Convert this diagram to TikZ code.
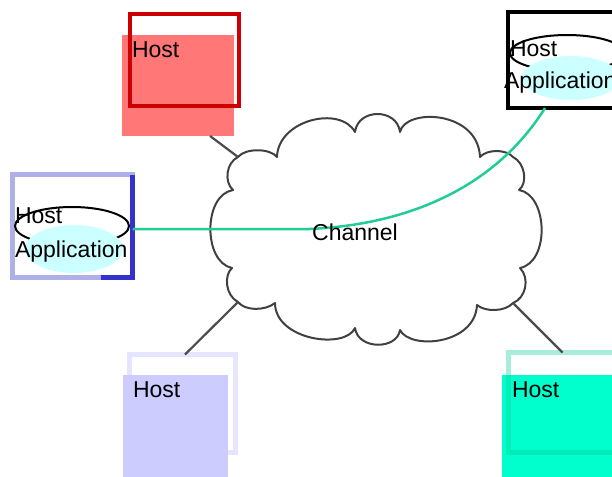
\documentclass[tikz,border=0pt]{standalone}
\usepackage{fontspec}
\setmainfont{Liberation Sans}
\usetikzlibrary{shapes.geometric}
\definecolor{hostred}{HTML}{FF7777}
\definecolor{framered}{HTML}{CC0000}
\definecolor{hostlav}{HTML}{CCCCFF}
\definecolor{hostmint}{HTML}{00FFCC}
\definecolor{linkteal}{HTML}{22CC99}
\definecolor{appcyan}{HTML}{CCFFFF}
\definecolor{framelav}{HTML}{B0B0E8}
\definecolor{frameblue}{HTML}{3333CC}
\definecolor{framemint}{HTML}{00CC99}

\begin{document}
\begin{tikzpicture}[x=1pt,y=-1pt,
  every node/.style={inner sep=0pt,outer sep=0pt},
  boxfill/.style={rectangle,anchor=north west},
  hostframe/.style={rectangle,anchor=north west,line width=#1},
  txt/.style={anchor=west,font=\fontsize{23}{26}\selectfont},
  ring/.style={ellipse,draw=black,line width=2pt},
  disk/.style={ellipse,fill=appcyan},
  cloudline/.style={draw=black!75,line width=2pt,line join=round},
  link/.style={draw=black!70,line width=2.2pt},
  applink/.style={draw=linkteal,line width=2.5pt}]

\useasboundingbox (0,0) rectangle (612,476);

% red host: shaded body with its frame on top
\node[boxfill,fill=hostred,minimum width=112pt,minimum height=101pt] (redhost) at (122,35) {};
\node[hostframe=4pt,draw=framered,minimum width=109pt,minimum height=92pt] (redframe) at (130,14) {};
\node[txt] (redtext) at ([xshift=10pt,yshift=-15pt]redhost.north west) {Host};

% lavender host
\node[boxfill,fill=hostlav,minimum width=105pt,minimum height=105pt] (lavhost) at (123,375) {};
\node[hostframe=5pt,draw=hostlav,draw opacity=0.5,minimum width=106pt,minimum height=98pt] (lavframe) at (129.5,354.5) {};
\node[txt] (lavtext) at ([xshift=10pt,yshift=-15pt]lavhost.north west) {Host};

% mint host
\node[boxfill,fill=hostmint,minimum width=116pt,minimum height=105pt] (minthost) at (502,375) {};
\node[hostframe=5pt,draw=framemint,draw opacity=0.35,minimum width=112pt,minimum height=100pt] (mintframe) at (508.5,352.5) {};
\node[txt] (minttext) at ([xshift=10pt,yshift=-15pt]minthost.north west) {Host};

% host with application, left
\node[hostframe=5pt,draw=framelav,minimum width=120pt,minimum height=103pt] (lapp) at (12.5,174.5) {};
\draw[frameblue,line width=5pt] ([xshift=-32pt]lapp.south east) -- (lapp.south east) -- (lapp.north east);
\node[ring,minimum width=114pt,minimum height=38pt] (lring) at (72,226) {};
\node[disk,minimum width=98pt,minimum height=48pt] (ldisk) at (74,249) {};
\node[txt] (lhost) at (15,216) {Host};
\node[txt] (lapptext) at (15,252) {Application};

% host with application, right
\node[hostframe=4pt,draw=black,minimum width=120pt,minimum height=96pt] (rapp) at (508,12) {};
\node[ring,minimum width=114pt,minimum height=36pt] (rring) at (567,53) {};
\node[disk,minimum width=98pt,minimum height=44pt] (rdisk) at (571,78) {};
\node[txt] (rhost) at (510,49) {Host};
\node[txt] (rapptext) at (504,83) {Application};

% channel cloud
\coordinate (tl) at (238,157);
\coordinate (tr) at (513,157);
\coordinate (br) at (513,303);
\coordinate (bl) at (238,302);
\draw[cloudline] (tl) .. controls (245,148) and (270,148) .. (277,157)
  .. controls (278,120) and (340,105) .. (355,132)
  .. controls (358,108) and (397,108) .. (400,132)
  .. controls (405,108) and (478,110) .. (480,157)
  .. controls (487,149) and (506,149) .. (tr)
  .. controls (525,163) and (528,183) .. (519,190)
  .. controls (548,195) and (550,262) .. (520,268)
  .. controls (530,278) and (526,298) .. (br)
  .. controls (505,312) and (485,312) .. (477,305)
  .. controls (475,345) and (410,350) .. (400,330)
  .. controls (397,350) and (358,350) .. (355,328)
  .. controls (345,350) and (275,340) .. (275,303)
  .. controls (265,311) and (245,311) .. (bl)
  .. controls (225,295) and (224,275) .. (232,268)
  .. controls (203,262) and (203,195) .. (233,190)
  .. controls (224,182) and (226,163) .. (tl) -- cycle;

% host links into the channel
\draw[link] ([xshift=-24pt]redhost.south east) -- (tl);
\draw[link] ([xshift=2.5pt]lavframe.north) -- (bl);
\draw[link] ([xshift=54pt]mintframe.north west) -- (br);

% application-to-application link across the channel
\draw[applink] ([yshift=-3pt]lapp.east) -- ++(177,0)
  .. controls +(110,-5) and +(-45,72) .. ([xshift=37pt]rapp.south west);

\node[txt,anchor=center] (channel) at (355,232) {Channel};
\end{tikzpicture}
\end{document}
